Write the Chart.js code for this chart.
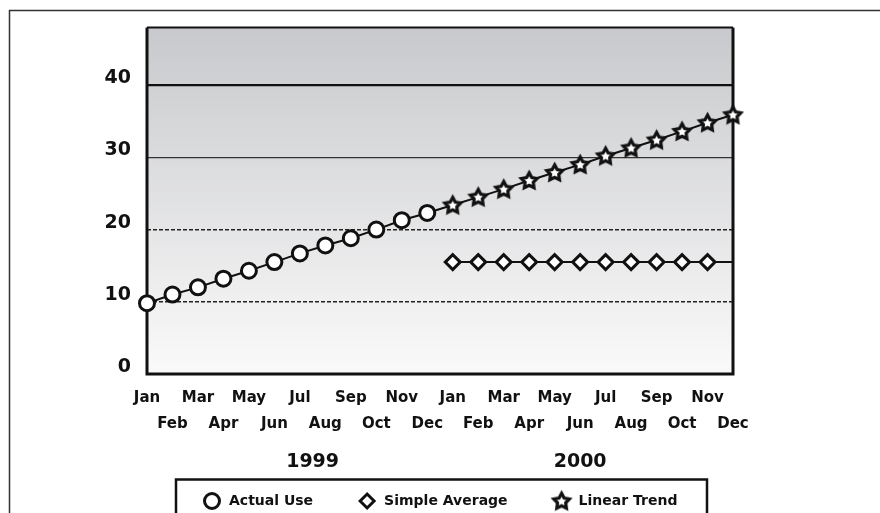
<!DOCTYPE html>
<html>
<head>
<meta charset="utf-8">
<script src="https://cdn.jsdelivr.net/npm/chart.js@4.4.1/dist/chart.umd.min.js"></script>
<style>
  html, body { margin: 0; padding: 0; background: #ffffff; }
  #wrap { width: 880px; height: 513px; position: relative; }
</style>
</head>
<body>
<div id="wrap"><canvas id="c" width="880" height="513"></canvas></div>
<script>
// Monthly usage, two years
const months = ['Jan', 'Feb', 'Mar', 'Apr', 'May', 'Jun', 'Jul', 'Aug', 'Sep', 'Oct', 'Nov', 'Dec'];
const categories = months.concat(months);
const years = ['1999', '2000'];
const yearCenters = [6.5, 17];          // category index under each year label
const yTicks = [0, 10, 20, 30, 40];

const actualUse = [9.8, 11.0, 12.0, 13.2, 14.3, 15.5, 16.7, 17.8, 18.8, 20.0, 21.3, 22.3,
                   null, null, null, null, null, null, null, null, null, null, null, null];
const simpleAverage = [null, null, null, null, null, null, null, null, null, null, null, null,
                       15.5, 15.5, 15.5, 15.5, 15.5, 15.5, 15.5, 15.5, 15.5, 15.5, 15.5, 15.5];
const linearTrend = [null, null, null, null, null, null, null, null, null, null, null, 22.3,
                     23.4, 24.5, 25.6, 26.8, 27.9, 29.0, 30.2, 31.3, 32.4, 33.6, 34.8, 35.9];

const FONT = '"DejaVu Sans", "Liberation Sans", sans-serif';
const INK = '#111111';

// five-pointed star marker with a white centre
function makeStar(outer, inner, lw) {
  const size = Math.ceil((outer + lw) * 2 + 2);
  const cv = document.createElement('canvas');
  cv.width = size; cv.height = size;
  const g = cv.getContext('2d');
  const c = size / 2;
  g.beginPath();
  for (let i = 0; i < 10; i++) {
    const r = i % 2 ? inner : outer;
    const a = -Math.PI / 2 + i * Math.PI / 5;
    const px = c + r * Math.cos(a), py = c + 0.5 + r * Math.sin(a);
    i ? g.lineTo(px, py) : g.moveTo(px, py);
  }
  g.closePath();
  g.fillStyle = '#ffffff';
  g.fill();
  g.lineWidth = lw;
  g.lineJoin = 'miter';
  g.strokeStyle = INK;
  g.stroke();
  return cv;
}
const starMark = makeStar(8.2, 4.3, 3.2);

const plotBackground = {
  id: 'plotBackground',
  beforeDraw(chart) {
    const { ctx, chartArea: a } = chart;
    const grad = ctx.createLinearGradient(0, a.top, 0, a.bottom);
    grad.addColorStop(0, '#c8c9cc');
    grad.addColorStop(1, '#fafafa');
    ctx.save();
    ctx.fillStyle = grad;
    ctx.fillRect(a.left, a.top, a.right - a.left, a.bottom - a.top);
    ctx.restore();
  },
  beforeDatasetsDraw(chart) {
    const { ctx, chartArea: a } = chart;
    ctx.save();
    ctx.strokeStyle = INK;
    ctx.lineWidth = 2;
    ctx.beginPath();
    ctx.moveTo(a.left, a.top); ctx.lineTo(a.right, a.top);
    ctx.stroke();
    ctx.lineWidth = 3;
    ctx.beginPath();
    ctx.moveTo(a.left, a.top); ctx.lineTo(a.left, a.bottom);
    ctx.lineTo(a.right, a.bottom); ctx.lineTo(a.right, a.top);
    ctx.stroke();
    ctx.restore();
  }
};

const decorations = {
  id: 'decorations',
  afterDraw(chart) {
    const { ctx } = chart;
    const x = chart.scales.x;
    ctx.save();
    // outer frame
    ctx.strokeStyle = '#333333';
    ctx.lineWidth = 1.5;
    ctx.beginPath();
    ctx.moveTo(9.5, 520); ctx.lineTo(9.5, 10.5); ctx.lineTo(885, 10.5);
    ctx.stroke();

    // year captions under the month labels
    ctx.fillStyle = INK;
    ctx.font = 'bold 19px ' + FONT;
    ctx.textAlign = 'center';
    ctx.textBaseline = 'middle';
    years.forEach((yr, i) => ctx.fillText(yr, x.getPixelForValue(yearCenters[i]), 462));

    // legend box
    ctx.lineWidth = 2.5;
    ctx.strokeStyle = INK;
    ctx.strokeRect(176, 479.5, 531, 50);
    ctx.font = 'bold 14px ' + FONT;
    ctx.textAlign = 'left';
    let lx = 204;
    const ly = 501;
    chart.data.datasets.forEach(ds => {
      ctx.fillStyle = '#ffffff';
      ctx.strokeStyle = INK;
      ctx.lineWidth = 3;
      Chart.helpers.drawPoint(ctx, {
        pointStyle: ds.pointStyle, radius: ds.legendRadius, borderWidth: 3, rotation: 0
      }, lx + 8, ly);
      ctx.fillStyle = INK;
      ctx.fillText(ds.label, lx + 25, ly);
      lx += 25 + ctx.measureText(ds.label).width + 46;
    });
    ctx.restore();
  }
};

const lineCommon = {
  borderColor: INK,
  borderWidth: 2,
  pointBackgroundColor: '#ffffff',
  pointBorderColor: INK,
  pointBorderWidth: 3,
  tension: 0,
  spanGaps: false,
  fill: false
};

new Chart(document.getElementById('c'), {
  type: 'line',
  data: {
    labels: categories,
    datasets: [
      Object.assign({}, lineCommon, {
        label: 'Actual Use', data: actualUse,
        pointStyle: 'circle', pointRadius: 7.5, legendRadius: 7.5
      }),
      Object.assign({}, lineCommon, {
        label: 'Simple Average', data: simpleAverage,
        pointStyle: 'rectRot', legendRadius: 7,
        pointRadius: simpleAverage.map((v, i) => i === simpleAverage.length - 1 ? 0 : 7.5)
      }),
      Object.assign({}, lineCommon, {
        label: 'Linear Trend', data: linearTrend,
        pointStyle: starMark, legendRadius: 8,
        pointRadius: linearTrend.map((v, i) => i === 11 ? 0 : 8)
      })
    ]
  },
  plugins: [plotBackground, decorations],
  options: {
    responsive: false,
    animation: false,
    devicePixelRatio: 1,
    layout: { padding: { top: 26, right: 147, left: 0, bottom: 0 } },
    plugins: { legend: { display: false }, tooltip: { enabled: false } },
    scales: {
      x: {
        type: 'category',
        grid: { display: false, drawTicks: false },
        border: { display: false },
        afterFit(s) { s.height = 139; },
        ticks: {
          autoSkip: false, maxRotation: 0, minRotation: 0, padding: 11,
          color: INK,
          font: { family: FONT, weight: 'bold', size: 15, lineHeight: '26px' },
          callback(v, i) { return i % 2 ? ['', categories[i]] : categories[i]; }
        }
      },
      y: {
        type: 'linear', position: 'left', min: 0, max: 48,
        afterFit(s) { s.width = 147; },
        afterBuildTicks(s) { s.ticks = yTicks.map(v => ({ value: v })); },
        border: { display: false },
        grid: {
          drawTicks: false,
          color: c => c.tick && c.tick.value === 40 ? '#111111' : (c.tick && c.tick.value === 30 ? '#333333' : 'rgba(0,0,0,0)'),
          lineWidth: c => c.tick && c.tick.value === 40 ? 2.2 : 1.2
        },
        ticks: {
          padding: 16, labelOffset: -7, color: INK,
          font: { family: FONT, weight: 'bold', size: 19 }
        }
      },
      yDash: {
        type: 'linear', position: 'left', min: 0, max: 48,
        afterFit(s) { s.width = 0; },
        afterBuildTicks(s) { s.ticks = [10, 20].map(v => ({ value: v })); },
        border: { display: false, dash: [4, 2] },
        grid: { drawTicks: false, color: '#222222', lineWidth: 1.5 },
        ticks: { display: false }
      }
    }
  }
});
</script>
</body>
</html>
